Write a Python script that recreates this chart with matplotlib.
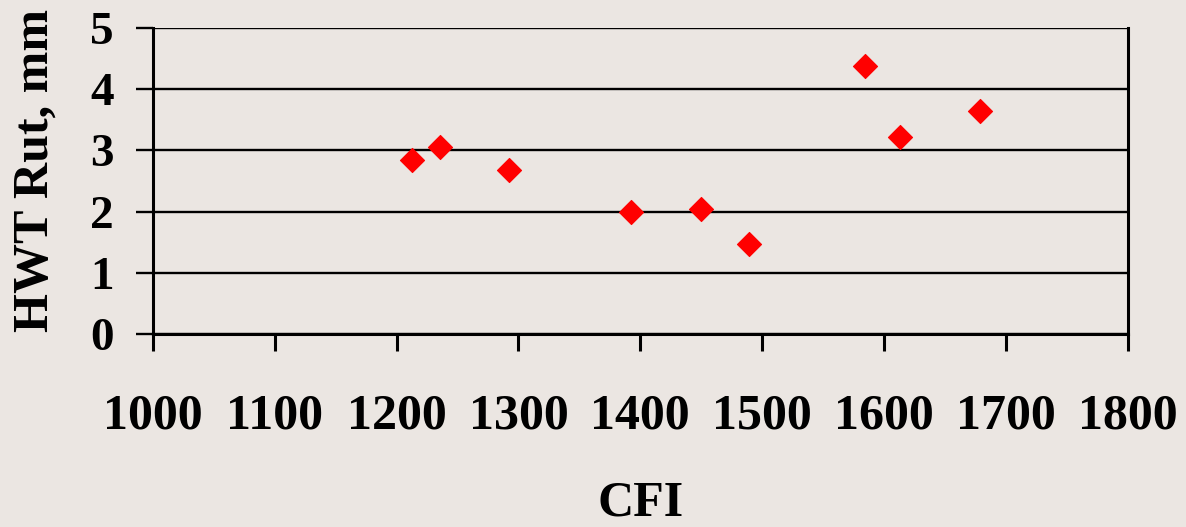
import matplotlib
matplotlib.use("Agg")
import matplotlib.pyplot as plt

# CFI vs. Hamburg wheel-tracking rut depth
cfi = [1213, 1236, 1292, 1392, 1450, 1489, 1584, 1613, 1679]
rut_mm = [2.84, 3.06, 2.68, 2.00, 2.05, 1.47, 4.38, 3.22, 3.64]

x_ticks = [1000, 1100, 1200, 1300, 1400, 1500, 1600, 1700, 1800]
y_ticks = [0, 1, 2, 3, 4, 5]

bg = "#ebe6e2"
plt.rcParams["font.family"] = ["Liberation Serif", "DejaVu Serif"]
plt.rcParams["font.weight"] = "bold"

fig = plt.figure(figsize=(11.86, 5.27), dpi=100, facecolor=bg)
ax = fig.add_axes([0.1288, 0.3662, 0.9509 - 0.1288, 0.9469 - 0.3662])
ax.set_facecolor(bg)

ax.scatter(cfi, rut_mm, marker="D", s=150, color="#ff0000",
           edgecolors="#ff0000", linewidths=0.8, zorder=3, clip_on=False)

ax.set_xlim(1000, 1800)
ax.set_ylim(0, 5)
ax.set_xticks(x_ticks)
ax.set_yticks(y_ticks)
ax.set_xticklabels([str(v) for v in x_ticks], fontsize=36, fontweight="bold")
ax.set_yticklabels([str(v) for v in y_ticks], fontsize=34, fontweight="bold")

ax.grid(axis="y", color="black", linewidth=1.7, zorder=1)
ax.set_axisbelow(True)
for side in ("left", "bottom", "right"):
    ax.spines[side].set_linewidth(2.2)
    ax.spines[side].set_color("black")
ax.spines["top"].set_visible(False)

ax.tick_params(axis="x", direction="out", length=12, width=2.2, pad=31, colors="black")
ax.tick_params(axis="y", direction="out", length=12, width=1.7, pad=16, colors="black")

ax.set_xlabel("CFI", fontsize=36, fontweight="bold", labelpad=29)
ax.set_ylabel("HWT Rut, mm", fontsize=36, fontweight="bold")
ax.yaxis.set_label_coords(-0.097, 0.535)

fig.savefig("out.png", dpi=100, facecolor=bg)
